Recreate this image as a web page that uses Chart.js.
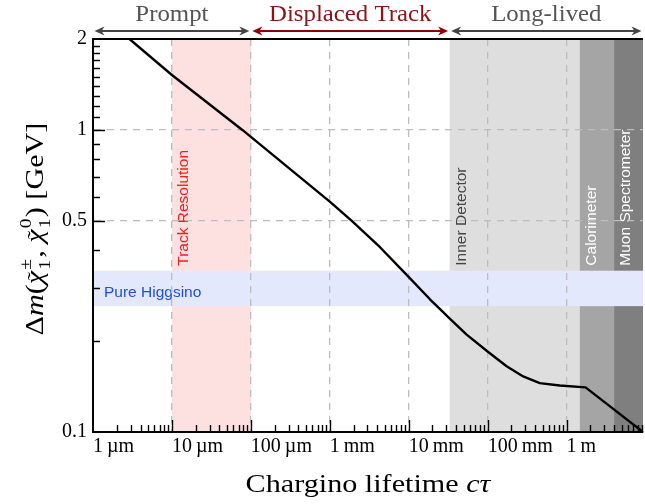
<!DOCTYPE html>
<html>
<head>
<meta charset="utf-8">
<script src="https://cdn.jsdelivr.net/npm/chart.js@4.4.0/dist/chart.umd.min.js"></script>
<style>
  html, body { margin: 0; padding: 0; background: #fff; }
  #chart { display: block; }
</style>
</head>
<body>
<canvas id="chart" width="645" height="504"></canvas>
<script>
// chargino lifetime c*tau (m) and mass splitting (GeV)
const lifetime = [2.9e-6, 1.0e-5, 7.8e-5, 1.0e-3, 1.9e-3, 4.33e-3, 9.9e-3, 1.86e-2, 3.24e-2, 5.42e-2, 9.89e-2, 0.174, 0.282, 0.458, 0.82, 1.74, 9.3];
const deltaM = [2.0, 1.52, 1.0, 0.579, 0.5, 0.409, 0.327, 0.275, 0.2386, 0.210, 0.185, 0.165, 0.1527, 0.1452, 0.1426, 0.1405, 0.1];

const xTicks = [1e-6, 1e-5, 1e-4, 1e-3, 1e-2, 1e-1, 1];
const xTickLabels = ['1\u2009\u00b5m', '10\u2009\u00b5m', '100\u2009\u00b5m', '1\u2009mm', '10\u2009mm', '100\u2009mm', '1\u2009m'];
const yTicks = [0.1, 0.5, 1, 2];
const yTickLabels = ['0.1', '0.5', '1', '2'];
const yMinorTicks = [0.2, 0.3, 0.4, 0.6, 0.7, 0.8, 0.9, 1.1, 1.2, 1.3, 1.4, 1.5, 1.6, 1.7, 1.8, 1.9];

// detector regions along c*tau (m)
const bandLabels = ['Track Resolution', 'Inner Detector', 'Calorimeter', 'Muon Spectrometer'];
const bandStart = [1e-5, 0.033, 1.47, 4.0];
const bandEnd = [1e-4, 1.47, 4.0, 9.3];

const regionLabels = ['Prompt', 'Displaced Track', 'Long-lived'];
const regionEdges = [1e-6, 1e-4, 0.033, 9.3];

const higgsinoRange = [0.261, 0.342];

const xMin = 1e-6, xMax = 9.3, yMin = 0.1, yMax = 2;

const serif = '"Liberation Serif", "Times New Roman", serif';
const sans = '"Liberation Sans", Arial, sans-serif';
const bandFill = ['#fde0e0', '#dedede', '#a5a5a5', '#7f7f7f'];
const bandInk = ['#ee2020', '#454545', '#ffffff', '#ffffff'];
const regionInk = ['#555555', '#8b1414', '#555555'];
const arrowInk = ['#444444', '#8b0000', '#444444'];
const stretch = 1.16; // Computer Modern runs wider than Times

const bandsPlugin = {
  id: 'bands',
  beforeDraw(chart) {
    const { ctx, chartArea: a, scales: { x, y } } = chart;
    ctx.save();
    ctx.beginPath();
    ctx.rect(a.left, a.top, a.right - a.left, a.bottom - a.top);
    ctx.clip();
    bandStart.forEach((s, i) => {
      const x0 = x.getPixelForValue(s), x1 = x.getPixelForValue(bandEnd[i]);
      ctx.fillStyle = bandFill[i];
      ctx.fillRect(x0, a.top, x1 - x0, a.bottom - a.top);
    });
    const yTop = y.getPixelForValue(higgsinoRange[1]);
    const yBot = y.getPixelForValue(higgsinoRange[0]);
    ctx.fillStyle = '#e3e8fd';
    ctx.fillRect(a.left, yTop, a.right - a.left, yBot - yTop);

    ctx.font = '15.5px ' + sans;
    ctx.textAlign = 'left';
    ctx.textBaseline = 'middle';
    bandStart.forEach((s, i) => {
      ctx.save();
      ctx.translate(x.getPixelForValue(s) + 12, yTop - 5);
      ctx.rotate(-Math.PI / 2);
      ctx.fillStyle = bandInk[i];
      ctx.fillText(bandLabels[i], 0, 0);
      ctx.restore();
    });
    ctx.fillStyle = '#1f50d8';
    ctx.fillText('Pure Higgsino', a.left + 11, (yTop + yBot) / 2 + 4);
    ctx.restore();
  }
};

function arrowHead(ctx, x, y, dir) {
  ctx.beginPath();
  ctx.moveTo(x, y);
  ctx.lineTo(x - dir * 10, y - 4.5);
  ctx.lineTo(x - dir * 7, y);
  ctx.lineTo(x - dir * 10, y + 4.5);
  ctx.closePath();
  ctx.fill();
}

// draws a run of text pieces centred on (0, 0), baseline at y = 0
function drawParts(ctx, parts) {
  const sm = '17px ' + serif;
  let total = 0;
  parts.forEach(p => {
    ctx.font = p.f;
    p.w = ctx.measureText(p.t).width;
    if (p.sup || p.sub) {
      ctx.font = sm;
      p.sw = Math.max(ctx.measureText(p.sup || '').width, ctx.measureText(p.sub || '').width) + 2;
    } else p.sw = 0;
    total += p.w + p.sw;
  });
  let xx = -total / 2;
  ctx.textAlign = 'left';
  ctx.textBaseline = 'alphabetic';
  parts.forEach(p => {
    ctx.font = p.f;
    ctx.fillText(p.t, xx, 0);
    if (p.tilde) {
      ctx.font = '22px ' + serif;
      ctx.textAlign = 'center';
      ctx.fillText('\u02dc', xx + p.w / 2 + 1, -1);
      ctx.textAlign = 'left';
    }
    xx += p.w;
    if (p.sup || p.sub) {
      ctx.font = sm;
      if (p.sup) ctx.fillText(p.sup, xx + 1, -12);
      if (p.sub) ctx.fillText(p.sub, xx + 1, 7);
      xx += p.sw;
    }
  });
}

const overlayPlugin = {
  id: 'overlay',
  afterDraw(chart) {
    const { ctx, chartArea: a, scales: { x, y } } = chart;
    ctx.save();
    // inward tick marks
    ctx.strokeStyle = '#000';
    ctx.lineWidth = 1.4;
    ctx.beginPath();
    for (let d = xMin; d <= 1; d *= 10) {
      for (let k = 1; k <= 9; k++) {
        const v = k * d;
        if (v > xMax) break;
        if (k === 1 && d === xMin) continue;
        const px = Math.round(x.getPixelForValue(v)) + 0.5;
        const len = k === 1 ? 12 : 7;
        ctx.moveTo(px, a.bottom);
        ctx.lineTo(px, a.bottom - len);
      }
    }
    yMinorTicks.forEach(v => {
      const py = Math.round(y.getPixelForValue(v)) + 0.5;
      ctx.moveTo(a.left, py);
      ctx.lineTo(a.left + 7, py);
    });
    [0.5, 1].forEach(v => {
      const py = Math.round(y.getPixelForValue(v)) + 0.5;
      ctx.moveTo(a.left, py);
      ctx.lineTo(a.left + 12, py);
    });
    ctx.stroke();

    // top frame line
    ctx.lineWidth = 2;
    ctx.beginPath();
    ctx.moveTo(a.left - 1, a.top);
    ctx.lineTo(a.right, a.top);
    ctx.stroke();

    // region arrows above the plot
    const ay = a.top - 8;
    regionLabels.forEach((lab, i) => {
      const x0 = x.getPixelForValue(regionEdges[i]) + 1.5;
      const x1 = x.getPixelForValue(regionEdges[i + 1]) - 1.5;
      ctx.strokeStyle = arrowInk[i];
      ctx.fillStyle = arrowInk[i];
      ctx.lineWidth = 2;
      ctx.beginPath();
      ctx.moveTo(x0 + 6, ay);
      ctx.lineTo(x1 - 6, ay);
      ctx.stroke();
      arrowHead(ctx, x0, ay, -1);
      arrowHead(ctx, x1, ay, 1);
      ctx.save();
      ctx.translate((x0 + x1) / 2, 21);
      ctx.scale(1.08, 1);
      ctx.font = '23px ' + serif;
      ctx.textAlign = 'center';
      ctx.textBaseline = 'alphabetic';
      ctx.fillStyle = regionInk[i];
      ctx.fillText(lab, 0, 0);
      ctx.restore();
    });

    // axis titles
    ctx.fillStyle = '#000';
    const big = '26px ' + serif, it = 'italic 26px ' + serif;
    ctx.save();
    ctx.translate(368, 492);
    ctx.scale(stretch, 1);
    drawParts(ctx, [{ t: 'Chargino lifetime ', f: big }, { t: 'c\u03c4', f: it }]);
    ctx.restore();

    ctx.save();
    ctx.translate(43, 229);
    ctx.rotate(-Math.PI / 2);
    ctx.scale(stretch, 1);
    drawParts(ctx, [
      { t: '\u0394', f: big }, { t: 'm', f: it }, { t: '(', f: big },
      { t: '\u03c7', f: it, tilde: true, sup: '\u00b1', sub: '1' },
      { t: ', ', f: big },
      { t: '\u03c7', f: it, tilde: true, sup: '0', sub: '1' },
      { t: ')', f: big }, { t: ' [GeV]', f: big }
    ]);
    ctx.restore();
    ctx.restore();
  }
};

const points = lifetime.map((v, i) => ({ x: v, y: deltaM[i] }));

new Chart(document.getElementById('chart'), {
  type: 'line',
  data: {
    datasets: [{
      data: points,
      borderColor: '#000',
      borderWidth: 2.4,
      pointRadius: 0,
      tension: 0,
      borderJoinStyle: 'round',
      fill: false
    }]
  },
  options: {
    responsive: false,
    animation: false,
    events: [],
    layout: { padding: { top: 39, right: 2, left: 0, bottom: 0 } },
    plugins: { legend: { display: false }, tooltip: { enabled: false } },
    scales: {
      x: {
        type: 'logarithmic',
        min: xMin,
        max: xMax,
        afterBuildTicks: s => { s.ticks = xTicks.map(v => ({ value: v })); },
        afterFit: s => { s.height = 72; },
        ticks: {
          align: 'start',
          autoSkip: false,
          maxRotation: 0,
          padding: 3,
          color: '#000',
          font: { family: serif, size: 20 },
          callback: (v, i) => xTickLabels[i]
        },
        grid: {
          drawTicks: false,
          lineWidth: 1.3,
          color: c => (c.tick && c.tick.value === xMin) ? 'rgba(0,0,0,0)' : '#bdbdbd'
        },
        border: { display: true, color: '#000', width: 2, dash: [7, 6] }
      },
      y: {
        type: 'logarithmic',
        min: yMin,
        max: yMax,
        afterBuildTicks: s => { s.ticks = yTicks.map(v => ({ value: v })); },
        afterFit: s => { s.width = 93; },
        ticks: {
          padding: 6,
          color: '#000',
          font: { family: serif, size: 20 },
          callback: (v, i) => yTickLabels[i]
        },
        grid: {
          drawTicks: false,
          lineWidth: 1.3,
          color: c => (c.tick && (c.tick.value === 0.5 || c.tick.value === 1)) ? '#bdbdbd' : 'rgba(0,0,0,0)'
        },
        border: { display: true, color: '#000', width: 2, dash: [7, 6] }
      }
    }
  },
  plugins: [bandsPlugin, overlayPlugin]
});
</script>
</body>
</html>
